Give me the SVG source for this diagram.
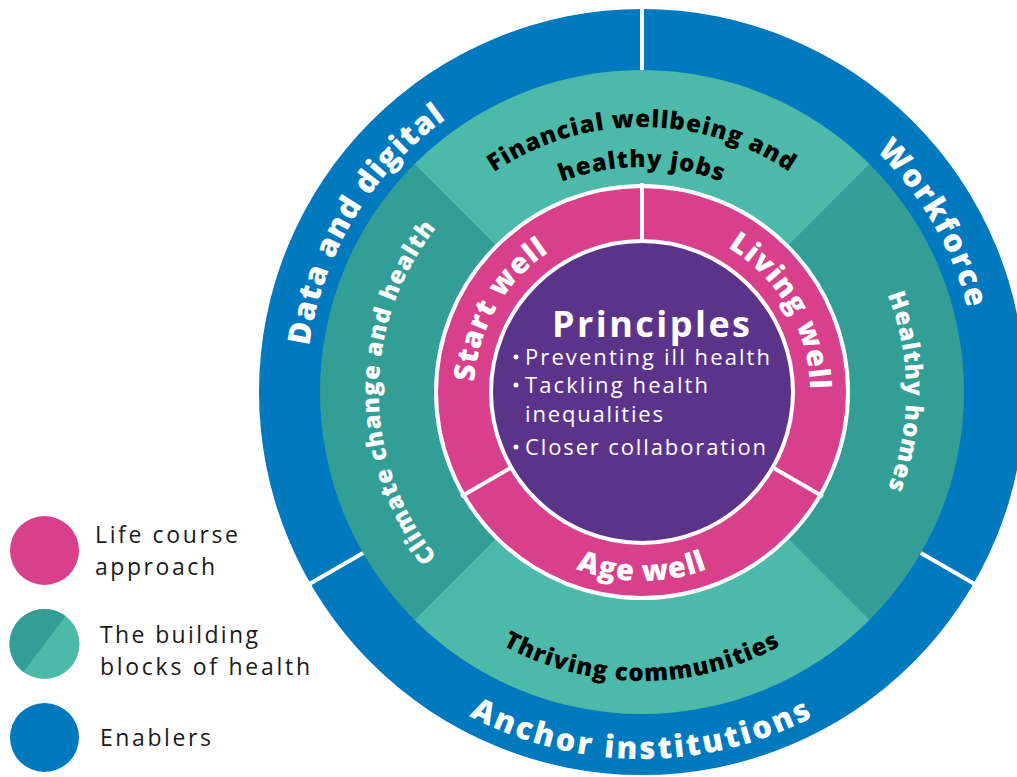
<svg xmlns="http://www.w3.org/2000/svg" width="1017" height="777" viewBox="0 0 1017 777">
<style>
  .blue{fill:#0079BE}
  .tl{fill:#4DB9A8}
  .td{fill:#329E96}
  .pink{fill:#D8408C}
  .purple{fill:#5B348A}
  .div{stroke:#fff;stroke-width:4;fill:none}
  .tb{font-family:"Open Sans","Noto Sans",sans-serif;font-weight:800;font-size:31px;fill:#fff;letter-spacing:1.8px}
  .tt{font-family:"Open Sans","Noto Sans",sans-serif;font-weight:800;font-size:24px;letter-spacing:1px}
  .tp{font-family:"Open Sans","Noto Sans",sans-serif;font-weight:800;font-size:29px;fill:#fff;letter-spacing:1px}
  .tc{font-family:"Open Sans","Noto Sans",sans-serif;font-size:22px;fill:#fff}
  .lg{font-family:"Open Sans","Noto Sans",sans-serif;font-size:23px;fill:#1a1a1a}
</style>
<defs>
  <path id="pBL" d="M351 560 A336 336 0 0 1 642 56"/>
  <path id="pBR" d="M642 56 A336 336 0 0 1 933 560"/>
  <path id="pBB" d="M324.2 575.5 A367 367 0 0 0 959.8 575.5"/>
  <path id="pT1" d="M393 301.4 A265 265 0 0 1 891 301.4"/>
  <path id="pT2" d="M430.6 315 A225 225 0 0 1 853.4 315"/>
  <path id="pTB" d="M370.4 490.8 A289 289 0 0 0 913.6 490.8"/>
  <path id="pTL" d="M552.1 639.2 A263 263 0 0 1 552.1 144.8"/>
  <path id="pTR" d="M732.3 143.9 A264 264 0 0 1 732.3 640.1"/>
  <path id="pPL" d="M496.5 476 A168 168 0 0 1 642 224"/>
  <path id="pPR" d="M642 224 A168 168 0 0 1 787.5 476"/>
  <path id="pPB" d="M479.2 486 A187 187 0 0 0 804.8 486"/>
</defs>

<g id="enablers">
  <circle class="blue" cx="642" cy="392" r="383"/>
  <g id="data-digital"><text class="tb" style="letter-spacing:1.2px"><textPath href="#pBL" startOffset="51%" text-anchor="middle">Data and digital</textPath></text></g>
  <g id="workforce"><text class="tb"><textPath href="#pBR" startOffset="50%" text-anchor="middle">Workforce</textPath></text></g>
  <g id="anchor"><text class="tb" style="letter-spacing:2.6px"><textPath href="#pBB" startOffset="50%" text-anchor="middle">Anchor institutions</textPath></text></g>
</g>

<g id="building-blocks">
  <g id="financial">
    <path class="tl" d="M642 392 L414.3 164.3 A322 322 0 0 1 869.7 164.3 Z"/>
    <text class="tt"><textPath href="#pT1" startOffset="50%" text-anchor="middle">Financial wellbeing and</textPath></text>
    <text class="tt"><textPath href="#pT2" startOffset="50%" text-anchor="middle">healthy jobs</textPath></text>
  </g>
  <g id="homes">
    <path class="td" d="M642 392 L869.7 164.3 A322 322 0 0 1 869.7 619.7 Z"/>
    <text class="tt" fill="#fff"><textPath href="#pTR" startOffset="50%" text-anchor="middle">Healthy homes</textPath></text>
  </g>
  <g id="communities">
    <path class="tl" d="M642 392 L869.7 619.7 A322 322 0 0 1 414.3 619.7 Z"/>
    <text class="tt"><textPath href="#pTB" startOffset="50%" text-anchor="middle">Thriving communities</textPath></text>
  </g>
  <g id="climate">
    <path class="td" d="M642 392 L414.3 619.7 A322 322 0 0 1 414.3 164.3 Z"/>
    <text class="tt" fill="#fff"><textPath href="#pTL" startOffset="50%" text-anchor="middle">Climate change and health</textPath></text>
  </g>
</g>

<g id="life-course">
  <circle class="pink" cx="642" cy="392" r="206" stroke="#fff" stroke-width="4"/>
  <g id="start-well"><text class="tp"><textPath href="#pPL" startOffset="50%" text-anchor="middle">Start well</textPath></text></g>
  <g id="living-well"><text class="tp"><textPath href="#pPR" startOffset="50%" text-anchor="middle">Living well</textPath></text></g>
  <g id="age-well"><text class="tp"><textPath href="#pPB" startOffset="50%" text-anchor="middle">Age well</textPath></text></g>
</g>

<g id="dividers">
  <line class="div" x1="642" y1="241" x2="642" y2="183"/>
  <line class="div" x1="772.8" y1="467.5" x2="822.9" y2="496.5"/>
  <line class="div" x1="511.2" y1="467.5" x2="461.1" y2="496.5"/>
  <line class="div" x1="642" y1="70" x2="642" y2="0"/>
  <line class="div" x1="920.9" y1="553" x2="977.2" y2="585.5"/>
  <line class="div" x1="363.1" y1="553" x2="306.8" y2="585.5"/>
</g>

<g id="principles">
  <circle class="purple" cx="642" cy="392" r="151" stroke="#fff" stroke-width="4"/>
  <text x="552" y="337" font-family="'Open Sans','Noto Sans',sans-serif" font-weight="700" font-size="36" fill="#fff" textLength="198" lengthAdjust="spacing">Principles</text>
  <circle cx="516" cy="357" r="2.5" fill="#fff"/>
  <circle cx="516" cy="385" r="2.5" fill="#fff"/>
  <circle cx="516" cy="447" r="2.5" fill="#fff"/>
  <text class="tc" x="525" y="365" textLength="245" lengthAdjust="spacing">Preventing ill health</text>
  <text class="tc" x="525" y="393" textLength="183" lengthAdjust="spacing">Tackling health</text>
  <text class="tc" x="525" y="422" textLength="138" lengthAdjust="spacing">inequalities</text>
  <text class="tc" x="525" y="455" textLength="241" lengthAdjust="spacing">Closer collaboration</text>
</g>

<g id="legend">
  <g id="legend-life">
    <circle class="pink" cx="44.5" cy="550.5" r="34.5"/>
    <text class="lg" x="95" y="543" textLength="143" lengthAdjust="spacing">Life course</text>
    <text class="lg" x="95" y="575" textLength="120" lengthAdjust="spacing">approach</text>
  </g>
  <g id="legend-blocks">
    <circle class="tl" cx="44.5" cy="644" r="35"/>
    <path class="td" d="M65.7 616.1 A35 35 0 0 0 23.3 671.9 Z"/>
    <text class="lg" x="100" y="643" textLength="158" lengthAdjust="spacing">The building</text>
    <text class="lg" x="100" y="675" textLength="210" lengthAdjust="spacing">blocks of health</text>
  </g>
  <g id="legend-enablers">
    <circle class="blue" cx="44.5" cy="737.5" r="34.5"/>
    <text class="lg" x="100" y="746" textLength="111" lengthAdjust="spacing">Enablers</text>
  </g>
</g>
</svg>
